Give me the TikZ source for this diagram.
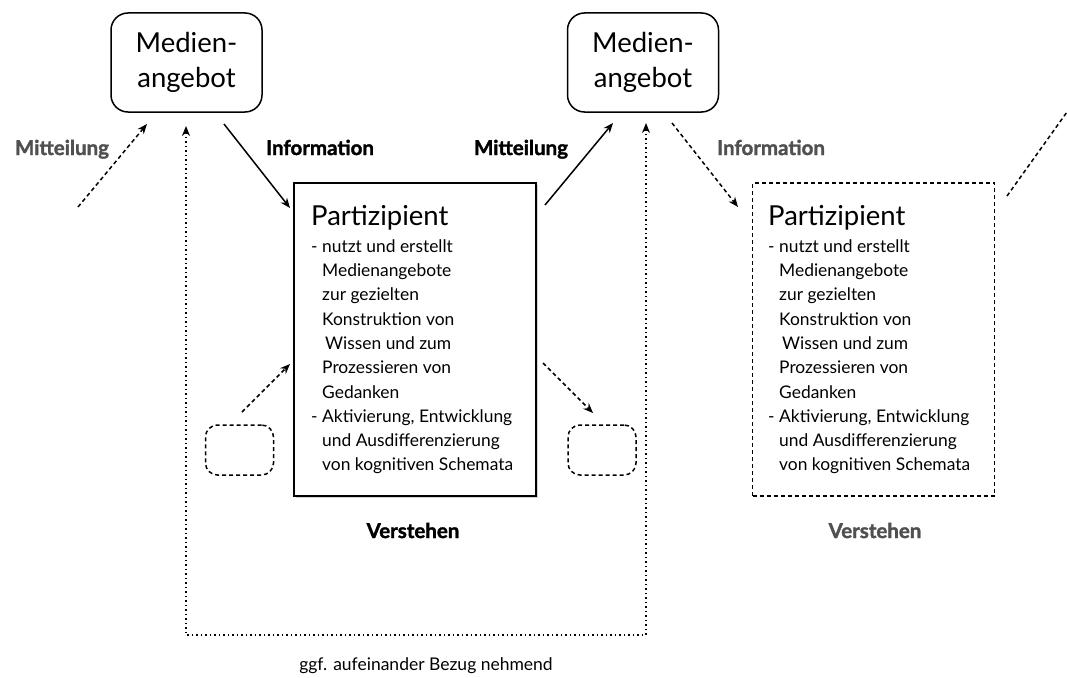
\documentclass[tikz,border=0pt]{standalone}
\usepackage{fontspec}
\setmainfont{Lato}
\newfontfamily\heavyfont{Lato Bold}[FakeBold=1.6]
\usetikzlibrary{arrows.meta,shadows}
\definecolor{labelgray}{RGB}{80,80,80}
\newcommand{\dashitem}[1]{\makebox[11pt][l]{-}#1}
\newcommand{\contitem}[1]{\hspace*{11pt}#1}
\newcommand{\partbody}{%
\rule{0pt}{18pt}\dashitem{nutzt und erstellt}\\
\contitem{Medienangebote}\\
\contitem{zur gezielten}\\
\contitem{Konstruktion von}\\
\contitem{\hspace*{3pt}Wissen und zum}\\
\contitem{Prozessieren von}\\
\contitem{Gedanken}\\
\dashitem{Aktivierung, Entwicklung}\\
\contitem{und Ausdifferenzierung}\\
\contitem{von kognitiven Schemata}}
\begin{document}
\begin{tikzpicture}[x=1pt,y=-1pt,
  medbox/.style={draw,line width=1.5pt,rounded corners=17pt,minimum width=151pt,minimum height=99pt,align=center,inner sep=0pt,font=\fontsize{27.5}{35}\selectfont},
  partbox/.style={minimum width=242pt,minimum height=313pt,inner sep=0pt},
  smallbox/.style={draw,dashed,dash pattern=on 4pt off 3pt,line width=1.5pt,rounded corners=12pt,minimum width=68pt,minimum height=50pt,inner sep=0pt},
  titletext/.style={anchor=base west,inner sep=0pt,font=\fontsize{27.5}{30}\selectfont},
  bodytext/.style={anchor=north west,inner sep=0pt,align=left,font=\fontsize{17.4}{24.3}\selectfont},
  lbl/.style={anchor=base,inner sep=0pt,font=\fontsize{20.5}{22}\heavyfont},
  arr/.style={line width=1.5pt,-{Stealth[length=10pt,width=8pt]}},
  dasharr/.style={arr,dash pattern=on 4pt off 3pt},
  dotarr/.style={line width=1.5pt,dash pattern=on 1.5pt off 3pt,{Stealth[length=10pt,width=8pt]}-{Stealth[length=10pt,width=8pt]}}
]
\useasboundingbox (0,0) rectangle (1067,677);

% Medienangebot boxes
\node[medbox] (m1) at (186.5,62.5) {Medien-\\angebot};
\node[medbox] (m2) at (643,62.5) {Medien-\\angebot};

% Partizipient boxes
\node[partbox,draw,line width=2pt,fill=white,drop shadow={shadow xshift=1.5pt,shadow yshift=-1.5pt,opacity=0.35}] (p1) at (415,339.5) {};
\node[partbox,draw,dashed,dash pattern=on 4pt off 3pt,line width=1.5pt] (p2) at (873.5,339.5) {};

\node[titletext] (p1title) at (311,225) {Partizipient};
\node[bodytext] (p1body) at (311,234) {\partbody};
\node[titletext] (p2title) at (768,225) {Partizipient};
\node[bodytext] (p2body) at (768,234) {\partbody};

% small dashed boxes
\node[smallbox] (s1) at (239.5,450) {};
\node[smallbox] (s2) at (602,450) {};

% arrow end coordinates
\coordinate (a1s) at (78,207);   \coordinate (a1e) at (147,124);
\coordinate (a2s) at (224,124);  \coordinate (a2e) at (290,208);
\coordinate (a3s) at (545,205);  \coordinate (a3e) at (613,123);
\coordinate (a4s) at (672,123);  \coordinate (a4e) at (738,207);
\coordinate (a5s) at (1007,196); \coordinate (a5e) at (1067,112);
\coordinate (b1s) at (242,412);  \coordinate (b1e) at (290,364);
\coordinate (b2s) at (543,363);  \coordinate (b2e) at (593,413);
\coordinate (d1) at (186,126);   \coordinate (d1b) at (186,635);
\coordinate (d2) at (646,123);   \coordinate (d2b) at (646,635);

\draw[dasharr] (a1s) -- (a1e);
\draw[arr] (a2s) -- (a2e);
\draw[arr] (a3s) -- (a3e);
\draw[dasharr] (a4s) -- (a4e);
\draw[line width=1.5pt,dash pattern=on 4pt off 3pt] (a5s) -- (a5e);
\draw[dasharr] (b1s) -- (b1e);
\draw[dasharr] (b2s) -- (b2e);
\draw[dotarr] (d1) -- (d1b) -- (d2b) -- (d2);

% labels
\node[lbl,text=labelgray] (l1) at (62,155) {Mitteilung};
\node[lbl] (l2) at (320,155) {Information};
\node[lbl] (l3) at (521,155) {Mitteilung};
\node[lbl,text=labelgray] (l4) at (771,155) {Information};
\node[lbl] (v1) at (413,538) {Verstehen};
\node[lbl,text=labelgray] (v2) at (875,538) {Verstehen};
\node[anchor=base,inner sep=0pt,font=\fontsize{17.5}{20}\selectfont] (bz) at (426,670) {ggf. aufeinander Bezug nehmend};
\end{tikzpicture}
\end{document}
